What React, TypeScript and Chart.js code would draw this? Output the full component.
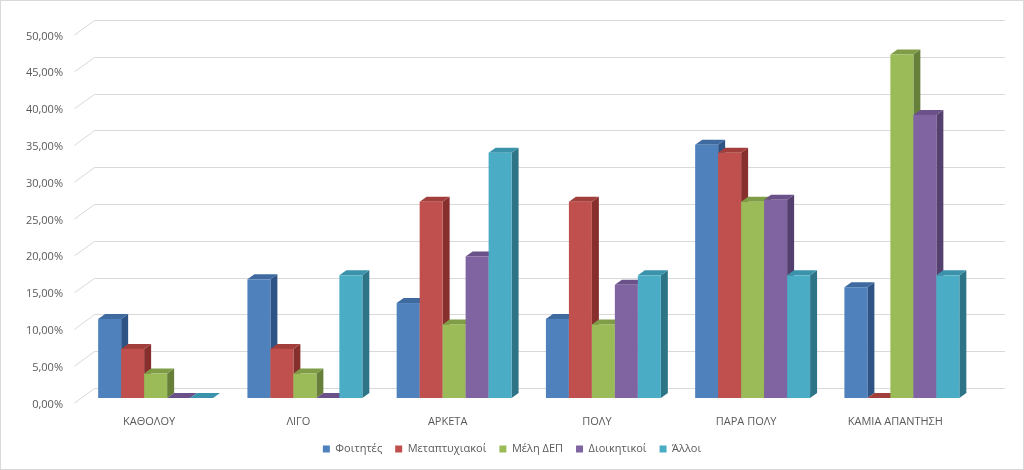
import React, { useEffect, useRef } from "react";
import { Chart, registerables } from "chart.js";

Chart.register(...registerables);

const categories = ["ΚΑΘΟΛΟΥ", "ΛΙΓΟ", "ΑΡΚΕΤΑ", "ΠΟΛΥ", "ΠΑΡΑ ΠΟΛΥ", "ΚΑΜΙΑ ΑΠΑΝΤΗΣΗ"];
const seriesNames = ["Φοιτητές", "Μεταπτυχιακοί", "Μέλη ΔΕΠ", "Διοικητικοί", "Άλλοι"];
const students = [10.75, 16.13, 12.9, 10.75, 34.41, 15.05];
const postgrads = [6.67, 6.67, 26.67, 26.67, 33.33, 0];
const faculty = [3.33, 3.33, 10.0, 10.0, 26.67, 46.67];
const admin = [0, 0, 19.23, 15.38, 26.92, 38.46];
const others = [0, 16.67, 33.33, 16.67, 16.67, 16.67];
const yTicks = [0, 5, 10, 15, 20, 25, 30, 35, 40, 45, 50];

const frontColors = ["#4F81BD", "#C0504D", "#9BBB59", "#8064A2", "#4BACC6"];
const topColors = ["#3E6A9F", "#A23F3C", "#7F9C46", "#6A5189", "#3A93AB"];
const sideColors = ["#2E5385", "#862F2D", "#66803A", "#54406E", "#2D7487"];

// 3D projection offsets (pixels)
const DEPTH_DX = 7;
const DEPTH_DY = -5;
const BACK_DX = 13.5;
const BACK_DY = -10;
const FRONT_DX = -6.5;
const FRONT_DY = 5;
const WALL_EXTRA = 15;

const threeD = {
  id: "threeD",
  beforeDatasetsDraw(chart: any) {
    const ctx = chart.ctx;
    const ys = chart.scales.y;
    const area = chart.chartArea;
    ctx.save();
    ctx.strokeStyle = "#D9D9D9";
    ctx.lineWidth = 1;
    yTicks.forEach((v) => {
      const py = ys.getPixelForValue(v);
      const by = Math.round(py + BACK_DY) + 0.5;
      ctx.beginPath();
      ctx.moveTo(area.left + FRONT_DX, py + FRONT_DY);
      ctx.lineTo(area.left + BACK_DX, by);
      ctx.lineTo(area.right + BACK_DX + WALL_EXTRA, by);
      ctx.stroke();
    });
    const n = chart.data.labels.length;
    const nd = chart.data.datasets.length;
    for (let i = 0; i < n; i++) {
      for (let d = 0; d < nd; d++) {
        const meta = chart.getDatasetMeta(d);
        const el = meta.data[i];
        if (!el) continue;
        const p = el.getProps(["x", "y", "base", "width"], true);
        const l = p.x - p.width / 2;
        const r = p.x + p.width / 2;
        const top = p.y;
        const base = p.base;
        ctx.fillStyle = sideColors[d];
        ctx.beginPath();
        ctx.moveTo(r, top);
        ctx.lineTo(r + DEPTH_DX, top + DEPTH_DY);
        ctx.lineTo(r + DEPTH_DX, base + DEPTH_DY);
        ctx.lineTo(r, base);
        ctx.closePath();
        ctx.fill();
        ctx.fillStyle = topColors[d];
        ctx.beginPath();
        ctx.moveTo(l, top);
        ctx.lineTo(l + DEPTH_DX, top + DEPTH_DY);
        ctx.lineTo(r + DEPTH_DX, top + DEPTH_DY);
        ctx.lineTo(r, top);
        ctx.closePath();
        ctx.fill();
        if (base - top > 0) {
          ctx.fillStyle = frontColors[d];
          ctx.fillRect(l, top, p.width, base - top);
        }
      }
    }
    ctx.restore();
    return false;
  },
  afterDraw(chart: any) {
    const ctx = chart.ctx;
    ctx.save();
    ctx.strokeStyle = "#D9D9D9";
    ctx.lineWidth = 1;
    ctx.strokeRect(0.5, 0.5, chart.width - 1, chart.height - 1);
    ctx.restore();
  },
  beforeDraw(chart: any) {
    const ctx = chart.ctx;
    ctx.save();
    ctx.fillStyle = "#FFFFFF";
    ctx.fillRect(0, 0, chart.width, chart.height);
    ctx.restore();
  },
};

export default function App() {
  const ref = useRef<HTMLCanvasElement | null>(null);
  useEffect(() => {
    if (!ref.current) return;
    const seriesValues = [students, postgrads, faculty, admin, others];
    const chart = new Chart(ref.current, {
      type: "bar",
      data: {
        labels: categories,
        datasets: seriesNames.map((name, i) => ({
          label: name,
          data: seriesValues[i],
          backgroundColor: frontColors[i],
          borderWidth: 0,
          categoryPercentage: 0.77,
          barPercentage: 1.0,
        })),
      },
      options: {
        animation: false,
        responsive: false,
        font: { family: "'Open Sans', sans-serif", size: 11 },
        layout: { padding: { left: 0, right: 0, top: 30, bottom: 5.5 } },
        plugins: {
          tooltip: { enabled: false },
          legend: {
            position: "bottom",
            labels: {
              boxWidth: 7,
              boxHeight: 7,
              padding: 13,
              color: "#595959",
              font: { family: "'Open Sans', sans-serif", size: 11 },
            },
          },
        },
        scales: {
          x: {
            grid: { display: false, drawTicks: false },
            border: { display: false },
            ticks: {
              color: "#595959",
              font: { family: "'Open Sans', sans-serif", size: 11 },
              padding: 17,
              labelOffset: FRONT_DX,
              maxRotation: 0,
              autoSkip: false,
            },
            afterFit: (s: any) => {
              s.height = 32.5;
            },
          },
          y: {
            min: 0,
            max: 50,
            grid: { display: false, drawTicks: false },
            border: { display: false },
            afterBuildTicks: (s: any) => {
              s.ticks = yTicks.map((v) => ({ value: v }));
            },
            ticks: {
              color: "#595959",
              font: { family: "'Open Sans', sans-serif", size: 11 },
              padding: 18,
              labelOffset: 6.5,
              callback: (v: any) => Number(v).toFixed(2).replace(".", ",") + "%",
            },
            afterFit: (s: any) => {
              s.width = 81;
            },
          },
          yRight: {
            position: "right",
            display: true,
            grid: { display: false, drawTicks: false },
            border: { display: false },
            ticks: { display: false },
            afterFit: (s: any) => {
              s.width = 47.5;
            },
          },
        },
      },
      plugins: [threeD],
    });
    return () => chart.destroy();
  }, []);
  return (
    <div style={{ position: "fixed", left: 0, top: 0, width: 1024, height: 470 }}>
      <canvas ref={ref} width={1024} height={470} />
    </div>
  );
}
